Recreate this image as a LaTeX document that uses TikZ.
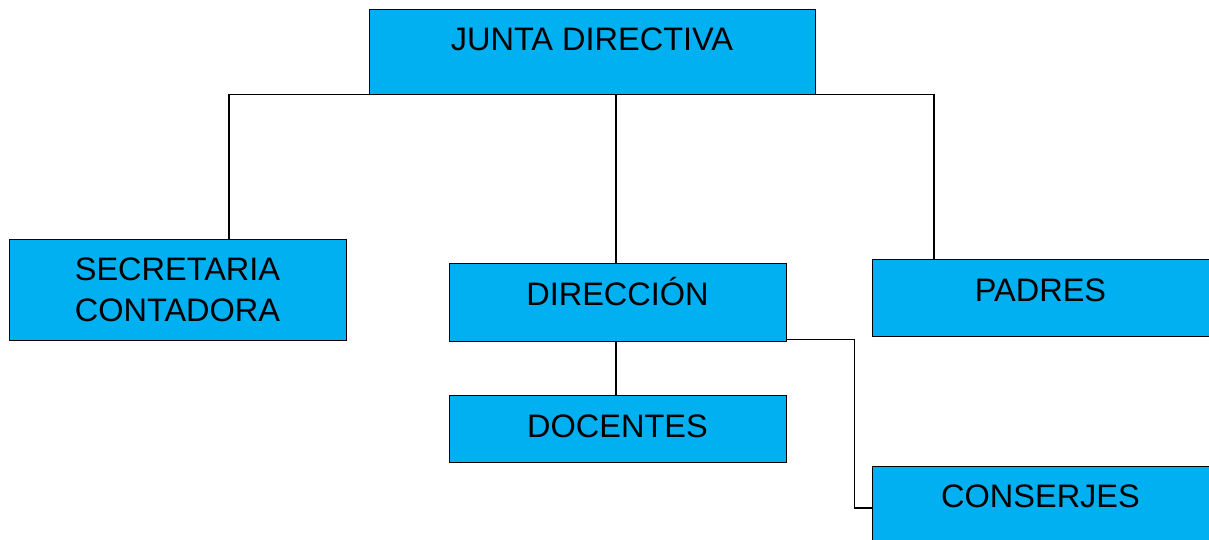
\documentclass[tikz,border=0pt]{standalone}
\usepackage{fontspec}
\setmainfont{Liberation Sans}
\definecolor{boxblue}{HTML}{00B0F0}
\begin{document}
\begin{tikzpicture}[x=1pt,y=-1pt,
  box/.style={draw=black,line width=0.9pt,fill=boxblue,rectangle,inner sep=0pt},
  lbl/.style={anchor=base,inner sep=0pt,font=\fontsize{32.5}{41}\selectfont},
  conn/.style={draw=black,line width=1.3pt}]
\useasboundingbox (0,0) rectangle (1209,539);
% boxes
\node[box,minimum width=446,minimum height=85] (junta) at (592,51.5) {};
\node[box,minimum width=337,minimum height=101] (secr) at (177.5,289.5) {};
\node[box,minimum width=337,minimum height=78] (dir) at (617.5,302) {};
\node[box,minimum width=337,minimum height=77] (pad) at (1040.5,297.5) {};
\node[box,minimum width=337,minimum height=67] (doc) at (617.5,429) {};
\node[box,minimum width=337,minimum height=84] (cons) at (1040.5,508) {};
% texts
\node[lbl] (tjunta) at (592,50) {JUNTA DIRECTIVA};
\node[lbl] (tsecr1) at (177.5,280.5) {SECRETARIA};
\node[lbl] (tsecr2) at (177.5,321.5) {CONTADORA};
\node[lbl] (tdir) at (617.5,305) {DIRECCIÓN};
\node[lbl] (tpad) at (1040.5,301) {PADRES};
\node[lbl] (tdoc) at (617.5,437) {DOCENTES};
\node[lbl] (tcons) at (1040.5,507) {CONSERJES};
% connectors
\draw[conn] (junta.south west) -| ([xshift=51.5pt]secr.north);
\draw[conn] (junta.south east) -| ([xshift=-106.5pt]pad.north);
\draw[conn] ([xshift=-1.5pt]dir.north |- junta.south) -- ([xshift=-1.5pt]dir.north);
\draw[conn] ([xshift=-1.5pt]dir.south) -- ([xshift=-1.5pt]doc.north);
\draw[conn] ([yshift=2pt]dir.south east) -- ++(68,0) |- (cons.west);
\end{tikzpicture}
\end{document}
